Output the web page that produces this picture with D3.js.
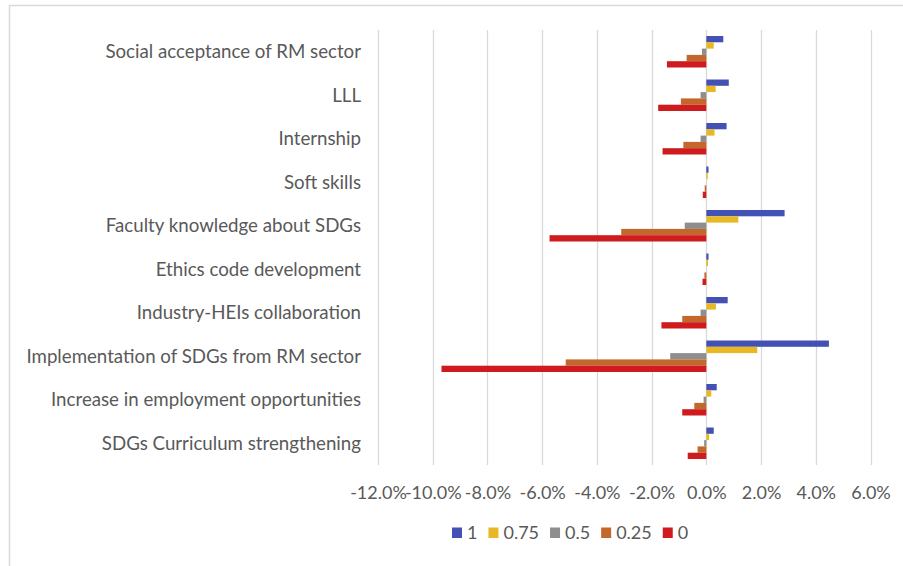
<!DOCTYPE html>
<html>
<head>
<meta charset="utf-8">
<script src="https://cdn.jsdelivr.net/npm/d3@7"></script>
<style>
  html, body { margin: 0; padding: 0; background: #fff; }
  svg { display: block; }
  text { font-family: Lato, "Open Sans", sans-serif; fill: #595959; }
</style>
</head>
<body>
<svg id="chart" width="903" height="566"></svg>
<script>
// ---- Data (top to bottom as shown) ----
const categories = [
  "Social acceptance of RM sector",
  "LLL",
  "Internship",
  "Soft skills",
  "Faculty knowledge about SDGs",
  "Ethics code development",
  "Industry-HEIs collaboration",
  "Implementation of SDGs from RM sector",
  "Increase in employment opportunities",
  "SDGs Curriculum strengthening"
];
const seriesNames = ["1", "0.75", "0.5", "0.25", "0"];
const values1    = [0.62, 0.82, 0.74, 0.08, 2.86, 0.08, 0.78, 4.48, 0.38, 0.27];
const values075  = [0.27, 0.34, 0.30, 0.05, 1.17, 0.06, 0.35, 1.86, 0.18, 0.10];
const values05   = [-0.16, -0.21, -0.21, 0.00, -0.79, 0.00, -0.21, -1.32, -0.10, -0.08];
const values025  = [-0.72, -0.93, -0.84, -0.06, -3.11, -0.07, -0.88, -5.14, -0.44, -0.32];
const values0    = [-1.44, -1.76, -1.60, -0.13, -5.73, -0.14, -1.64, -9.68, -0.88, -0.68];
const xTicks = [-12, -10, -8, -6, -4, -2, 0, 2, 4, 6];
const colors = ["#4351b5", "#e7b824", "#8e8e8e", "#c3672c", "#cf1b1d"];

const seriesValues = [values1, values075, values05, values025, values0];

const svg = d3.select("#chart");

// Outer chart border (cut off at right/bottom in the reference)
svg.append("rect")
  .attr("x", 9.5).attr("y", 5.5)
  .attr("width", 1000).attr("height", 1000)
  .attr("fill", "none").attr("stroke", "#d9d9d9").attr("stroke-width", 1.5);

const plot = { left: 378, right: 870.5, top: 30, bottom: 465 };

const x = d3.scaleLinear().domain([-12, 6]).range([plot.left, plot.right]);
const y0 = d3.scaleBand().domain(categories).range([plot.top, plot.bottom])
  .paddingInner(0.276).paddingOuter(0.138);
const y1 = d3.scaleBand().domain(seriesNames).range([0, y0.bandwidth()]);

// Gridlines
svg.append("g").selectAll("line").data(xTicks).join("line")
  .attr("x1", d => Math.round(x(d)) + 0.5).attr("x2", d => Math.round(x(d)) + 0.5)
  .attr("y1", plot.top).attr("y2", plot.bottom)
  .attr("stroke", "#d9d9d9").attr("stroke-width", 1.3);

// Bars
const groups = svg.append("g").selectAll("g").data(categories).join("g")
  .attr("transform", d => `translate(0,${y0(d)})`);
groups.selectAll("rect")
  .data((c, i) => seriesNames.map((s, j) => ({ s, j, v: seriesValues[j][i] })))
  .join("rect")
  .attr("x", d => x(Math.min(0, d.v)))
  .attr("width", d => Math.abs(x(d.v) - x(0)))
  .attr("y", d => y1(d.s))
  .attr("height", y1.bandwidth())
  .attr("fill", d => colors[d.j]);

// Category labels
svg.append("g").selectAll("text").data(categories).join("text")
  .attr("x", 361)
  .attr("y", d => y0(d) + y0.bandwidth() / 2)
  .attr("dy", "0.35em")
  .attr("text-anchor", "end")
  .style("font-size", "18.7px")
  .text(d => d);

// X axis tick labels (hyphen-minus as in the reference)
const xAxis = d3.axisBottom(x).tickValues(xTicks)
  .tickFormat(d => d.toFixed(1) + "%").tickSize(0).tickPadding(0);
const ax = svg.append("g").attr("transform", `translate(0,${plot.bottom})`).call(xAxis);
ax.select(".domain").remove();
ax.selectAll("text")
  .attr("y", 28).attr("dy", "0.35em")
  .style("font-size", "18px").style("font-family", "Lato, sans-serif")
  .attr("fill", "#595959");

// Legend
const legend = svg.append("g").attr("transform", "translate(452,533)");
let lx = 0;
seriesNames.forEach((s, j) => {
  const g = legend.append("g").attr("transform", `translate(${lx},0)`);
  g.append("rect").attr("x", 0).attr("y", -5.5).attr("width", 10).attr("height", 10.5).attr("fill", colors[j]);
  const t = g.append("text").attr("x", 15).attr("dy", "0.35em").style("font-size", "18px").text(s);
  lx += 15 + t.node().getComputedTextLength() + 11;
});
</script>
</body>
</html>
